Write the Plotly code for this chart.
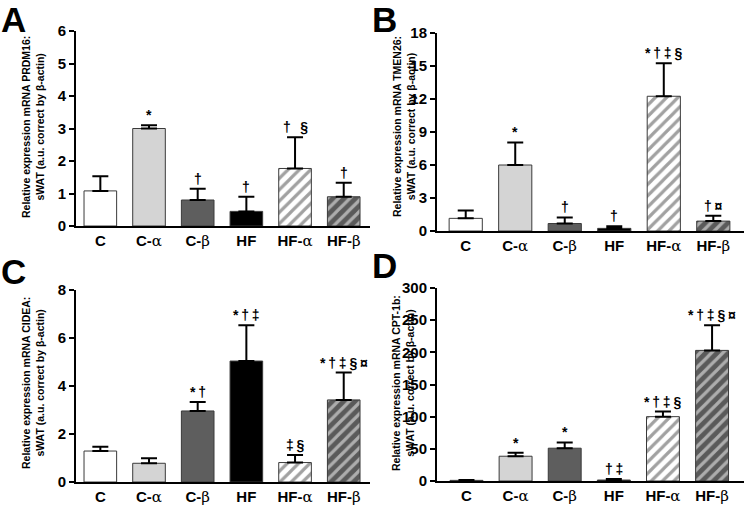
import plotly.graph_objects as go

categories = ["C", "C-α", "C-β", "HF", "HF-α", "HF-β"]
GREEK = "<span style='font-family:\"DejaVu Serif\";font-weight:normal'>{}</span>"
tick_labels = ["C", "C-" + GREEK.format("α"), "C-" + GREEK.format("β"), "HF",
               "HF-" + GREEK.format("α"), "HF-" + GREEK.format("β")]

A_mean = [1.08, 3.00, 0.80, 0.45, 1.77, 0.90]
A_err = [0.45, 0.10, 0.35, 0.45, 0.96, 0.43]
A_sig = ["", "*", "†", "†", "† §", "†"]

B_mean = [1.15, 6.00, 0.68, 0.24, 12.25, 0.90]
B_err = [0.72, 2.05, 0.55, 0.20, 3.00, 0.48]
B_sig = ["", "*", "†", "†", "*†‡§", "†¤"]

C_mean = [1.29, 0.78, 2.96, 5.04, 0.81, 3.42]
C_err = [0.18, 0.21, 0.37, 1.49, 0.32, 1.14]
C_sig = ["", "", "*†", "*†‡", "‡§", "*†‡§¤"]

D_mean = [1.0, 38.5, 51.0, 1.5, 100.0, 203.0]
D_err = [0.5, 5.5, 9.0, 1.5, 8.0, 39.0]
D_sig = ["", "*", "*", "†‡", "*†‡§", "*†‡§¤"]

y_titles = [
    "Relative expression mRNA PRDM16:<br>sWAT (a.u. correct by β-actin)",
    "Relative expression mRNA TMEN26:<br>sWAT (a.u. correct by β-actin)",
    "Relative expression mRNA CIDEA:<br>sWAT (a.u. correct by β-actin)",
    "Relative expression mRNA CPT-1b:<br>sWAT (a.u. correct by β-actin)",
]
panel_letters = ["A", "B", "C", "D"]

fill_colors = ["#ffffff", "#d4d4d4", "#5e5e5e", "#000000", "#ffffff", "#5a5a5a"]
pat_shapes = ["", "", "", "", "/", "/"]
pat_fg = ["#ffffff", "#d4d4d4", "#5e5e5e", "#000000", "#c4c4c4", "#111111"]
pat_bg = ["#ffffff", "#d4d4d4", "#5e5e5e", "#000000", "#ffffff", "#5a5a5a"]

W, H = 745, 513
FONT = "Liberation Sans, Arial, sans-serif"
THIN = "\u2009"

panels = [
    dict(mean=A_mean, err=A_err, sig=A_sig, px_x=(76, 370), px_y=(226, 31), yr=(0, 6), dt=1, xr=(-0.5, 5.54),
         title_xy=(33, 127), letter_xy=(-1, -2)),
    dict(mean=B_mean, err=B_err, sig=B_sig, px_x=(437, 744), px_y=(231, 33), yr=(0, 18), dt=3, xr=(-0.58, 5.62),
         title_xy=(404, 127), letter_xy=(370, -2)),
    dict(mean=C_mean, err=C_err, sig=C_sig, px_x=(76, 370), px_y=(482, 290), yr=(0, 8), dt=2, xr=(-0.5, 5.54),
         title_xy=(33, 383), letter_xy=(-1, 250)),
    dict(mean=D_mean, err=D_err, sig=D_sig, px_x=(437, 744), px_y=(481, 288), yr=(0, 300), dt=50, xr=(-0.6, 5.65),
         title_xy=(403, 383), letter_xy=(370, 244)),
]

fig = go.Figure()
annotations = []
layout = dict(
    width=W, height=H, margin=dict(l=0, r=0, t=0, b=0, autoexpand=False),
    paper_bgcolor="white", plot_bgcolor="white", showlegend=False,
    font=dict(family=FONT, color="black"),
)

for i, p in enumerate(panels):
    n = "" if i == 0 else str(i + 1)
    xa, ya = "x" + n, "y" + n
    fig.add_trace(go.Bar(
        x=list(range(len(categories))), y=p["mean"], width=0.67,
        xaxis=xa, yaxis=ya,
        marker=dict(
            color=fill_colors,
            line=dict(color="#3a3a3a", width=1),
            pattern=dict(shape=pat_shapes, fgcolor=pat_fg, bgcolor=pat_bg, size=8, solidity=0.4),
        ),
        error_y=dict(type="data", array=p["err"], arrayminus=[0] * 6, symmetric=False,
                     color="black", thickness=2, width=8),
    ))
    x0, x1 = p["px_x"]
    yb, yt = p["px_y"]
    layout["xaxis" + n] = dict(
        domain=[x0 / W, x1 / W], anchor=ya, range=list(p["xr"]),
        tickmode="array", tickvals=list(range(6)), ticktext=tick_labels,
        showline=True, linecolor="black", linewidth=2, ticks="", showgrid=False, zeroline=False,
        tickfont=dict(size=15, family=FONT, weight="bold", color="black"), fixedrange=True,
        automargin=False,
    )
    layout["yaxis" + n] = dict(
        domain=[1 - yb / H, 1 - yt / H], anchor=xa, range=list(p["yr"]),
        dtick=p["dt"], tick0=0,
        showline=True, linecolor="black", linewidth=2, ticks="outside", ticklen=5, tickwidth=2,
        tickcolor="black", showgrid=False, zeroline=False,
        tickfont=dict(size=15, family=FONT, weight="bold", color="black"), fixedrange=True,
        automargin=False,
    )
    for j in range(6):
        if p["sig"][j]:
            annotations.append(dict(
                x=j, y=p["mean"][j] + p["err"][j], xref=xa, yref=ya,
                text=THIN.join(p["sig"][j]), showarrow=False, yanchor="bottom", xanchor="center",
                font=dict(size=14, family=FONT, weight="bold", color="black"),
            ))
    tx, ty = p["title_xy"]
    annotations.append(dict(
        x=tx / W, y=1 - ty / H, xref="paper", yref="paper", text=y_titles[i],
        textangle=-90, showarrow=False, xanchor="center", yanchor="middle",
        font=dict(size=10.5, family=FONT, weight="bold", color="black"),
    ))
    lx, ly = p["letter_xy"]
    annotations.append(dict(
        x=lx / W, y=1 - ly / H, xref="paper", yref="paper", text=panel_letters[i],
        showarrow=False, xanchor="left", yanchor="top",
        font=dict(size=35, family=FONT, weight="bold", color="black"),
    ))

layout["annotations"] = annotations
fig.update_layout(**layout)
fig.write_html(
    "out.html",
    config={"displayModeBar": False},
    post_script="document.body.style.margin='0';document.body.style.padding='0';document.body.style.overflow='hidden';",
)
